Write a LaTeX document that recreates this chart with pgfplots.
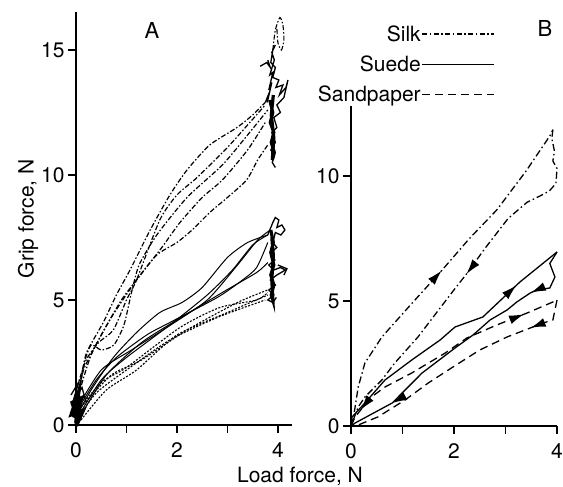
\documentclass[border=0pt]{standalone}
\usepackage{fontspec}
\setmainfont{TeX Gyre Heros}
\usepackage{pgfplots}
\pgfplotsset{compat=1.18}
\usetikzlibrary{arrows.meta,decorations.markings}

\tikzset{
  silkA/.style={line width=1.2pt, dash pattern=on 5pt off 2pt on 1.5pt off 2pt},
  suedeA/.style={line width=1.0pt},
  sandA/.style={line width=1.1pt, dash pattern=on 2pt off 1.5pt},
  silkB/.style={line width=1.3pt, dash pattern=on 7pt off 3pt on 1.5pt off 3pt},
  suedeB/.style={line width=1.3pt},
  sandB/.style={line width=1.3pt, dash pattern=on 8pt off 5pt},
  scrib/.style={line width=1.3pt, solid},
  blob/.style={line width=3.2pt, solid},
  arr/.style={postaction={decorate}, decoration={markings, #1}},
}
\newcommand{\tip}{\arrow{Latex[length=15pt,width=9pt]}}
\newcommand{\rtip}{\arrow{Latex[length=15pt,width=9pt,reversed]}}

\pgfplotsset{
  panel/.style={
    scale only axis, anchor=south west,
    axis x line=bottom, axis y line=left,
    axis line style={-, line width=1.6pt},
    tick align=outside, major tick length=8pt, minor tick length=8pt,
    every tick/.style={line width=1.4pt, black},
    minor tick style={line width=1.4pt, black},
    xmin=0, ymin=0,
    xtick={0,2,4}, minor xtick={1,3},
    clip=false,
    /pgf/number format/assume math mode=true,
    yticklabel style={font=\fontsize{21}{24}\selectfont},
    xticklabel style={font=\fontsize{21}{24}\selectfont, anchor=north, yshift=-6pt},
    every axis plot/.append style={black, smooth, tension=0.4},
  },
}

\begin{document}
\begin{tikzpicture}
\useasboundingbox (0pt,0pt) rectangle (563pt,487pt);

% ---------------- Panel A ----------------
\begin{axis}[panel, at={(76pt,62pt)}, width=216pt, height=412.5pt,
  xmax=4.28, ymax=16.5, ytick={0,5,10,15},
  ylabel={Grip force, N},
  ylabel style={font=\fontsize{21}{24}\selectfont, yshift=-4pt}]
% Silk (upper group)
\addplot[silkA] coordinates {(0.05,1.0) (0.12,2.0) (0.21,2.9) (0.54,4.1) (0.8,5.2) (1.07,6.2) (1.47,7.8) (1.86,9.2) (2.2,10.2) (2.65,11.2) (3.19,11.9) (3.5,12.4) (3.75,12.9)};
\addplot[silkA] coordinates {(0.02,1.5) (0.2,2.6) (0.45,3.3) (0.74,3.8) (1.0,5.0) (1.2,5.8) (1.66,8.2) (2.0,9.2) (2.4,9.9) (3.0,11.1) (3.4,12.0) (3.75,12.8)};
\addplot[silkA] coordinates {(0.02,1.0) (0.15,2.4) (0.3,3.2) (0.5,3.0) (0.75,3.2) (0.95,4.0) (1.1,5.3) (1.25,6.4) (1.6,7.6) (2.2,9.1) (2.9,10.4) (3.4,11.6) (3.8,12.6)};
\addplot[silkA] coordinates {(0.0,0.8) (0.15,2.2) (0.5,3.6) (0.9,5.0) (1.2,5.8) (1.7,7.1) (2.06,8.1) (2.5,9.1) (2.9,9.8) (3.4,11.0) (3.75,12.1)};
\addplot[silkA] coordinates {(0.05,1.2) (0.3,2.8) (0.7,4.3) (1.2,5.8) (1.6,6.8) (2.0,7.3) (2.3,7.8) (2.65,8.5) (3.0,9.1) (3.38,9.8) (3.6,10.6) (3.8,11.2)};
% Silk scribble near 4 N
\addplot[scrib, sharp plot] coordinates {(3.75,12.9) (3.83,13.3) (3.79,12.9) (3.88,13.7) (3.82,13.4) (3.9,14.1) (3.84,14.0) (3.93,14.6) (3.88,14.9) (3.95,15.2) (3.9,15.0) (3.86,14.5) (3.95,14.3) (3.9,13.9) (4.02,13.8) (3.96,13.5) (4.1,13.6) (4.03,13.2) (4.16,13.5) (4.2,13.8) (4.12,13.1) (3.98,12.8) (4.05,12.5) (3.92,12.3) (3.98,11.9) (3.88,11.7) (3.95,11.3) (3.86,11.0) (3.93,10.8) (3.89,10.5) (3.95,10.3)};
\addplot[scrib, sharp plot] coordinates {(3.65,14.35) (3.78,14.5) (3.85,14.3) (3.8,14.6)};
\addplot[silkA, line width=1.1pt] coordinates {(3.9,15.0) (3.95,15.8) (4.04,16.3) (4.1,16.0) (4.12,15.4) (4.07,15.0) (4.0,15.3) (3.98,15.9)};
\addplot[blob, sharp plot] coordinates {(3.84,13.0) (3.9,12.5) (3.85,12.1) (3.92,11.7) (3.87,11.3) (3.93,10.9) (3.89,10.6) (3.92,11.5) (3.87,12.4) (3.91,13.2)};
% Suede (middle group)
\addplot[suedeA] coordinates {(0,0.3) (0.3,1.4) (0.74,2.7) (1.2,3.7) (1.66,4.5) (2.1,4.9) (2.5,5.5) (3.0,6.7) (3.4,7.3) (3.8,7.6)};
\addplot[suedeA] coordinates {(0,0.5) (0.4,1.8) (0.8,2.7) (1.4,3.6) (1.86,4.1) (2.8,5.1) (3.3,5.8) (3.58,6.3) (3.8,7.3)};
\addplot[suedeA] coordinates {(0,0.2) (0.5,1.8) (1.0,2.7) (1.86,4.0) (2.6,5.2) (3.1,6.2) (3.5,7.2) (3.8,7.6)};
\addplot[suedeA] coordinates {(0.1,0.4) (0.6,2.0) (1.3,3.3) (2.0,4.2) (2.9,5.3) (3.58,6.1) (3.8,6.5)};
\addplot[suedeA] coordinates {(0,0.6) (0.5,2.2) (1.1,3.0) (1.8,3.9) (2.6,5.0) (3.2,6.4) (3.6,7.4) (3.85,7.8)};
% Suede scribble
\addplot[scrib, sharp plot] coordinates {(3.8,7.6) (3.9,8.1) (3.95,8.3) (4.02,8.2) (3.98,7.9) (4.08,8.0) (4.14,7.8) (4.06,7.6) (3.95,7.7) (3.9,7.3) (3.98,7.1) (3.86,6.9) (3.94,6.6) (3.82,6.4) (3.92,6.2) (4.05,6.3) (4.15,6.2) (3.98,6.0) (3.85,5.8) (3.95,5.6) (3.82,5.4) (3.92,5.2) (3.8,5.0) (3.9,4.9) (3.97,5.1)};
\addplot[scrib, sharp plot] coordinates {(4.0,6.4) (4.18,6.25) (4.12,6.0)};
\addplot[blob, sharp plot] coordinates {(3.86,7.8) (3.91,7.3) (3.86,6.9) (3.92,6.4) (3.86,6.0) (3.92,5.6) (3.87,5.2) (3.9,5.0) (3.88,5.8) (3.91,6.8) (3.88,7.5)};
% Sandpaper (lower group)
\addplot[sandA] coordinates {(0.05,0.3) (0.41,1.3) (1.07,2.3) (1.86,3.4) (2.8,4.3) (3.75,5.0)};
\addplot[sandA] coordinates {(0,0.5) (0.5,1.7) (1.0,2.3) (2.06,3.9) (2.85,4.7) (3.58,5.0) (3.8,5.3)};
\addplot[sandA] coordinates {(0.1,0.2) (0.6,1.4) (1.2,2.2) (2.0,3.6) (3.0,4.5) (3.8,5.2)};
\addplot[sandA] coordinates {(0.05,0.6) (0.7,2.0) (1.3,2.6) (2.2,3.8) (3.2,4.9) (3.8,5.4)};
% Origin cluster
\addplot[blob, sharp plot] coordinates {(0,0) (0.08,0.8) (-0.05,0.3) (0.12,1.1) (-0.08,0.9) (0.04,0.1) (0.15,0.6) (-0.1,0.4) (0.06,1.4) (0,0.2) (0.1,0.3)};
\addplot[scrib, sharp plot] coordinates {(-0.1,1.2) (0.05,1.7) (-0.05,1.0) (0.12,1.5) (0.2,0.9)};
\end{axis}

% ---------------- Panel B ----------------
\begin{axis}[panel, at={(351pt,61pt)}, width=206pt, height=320pt,
  xmax=4.0, ymax=12.8, ytick={0,5,10},
  legend plot pos=right, legend cell align=right,
  legend image code/.code={\draw[#1] (0pt,0pt) -- (72pt,0pt);},
  legend style={at={(0.714,1.262)}, anchor=north east, draw=none, fill=none,
    font=\fontsize{21}{23}\selectfont, row sep=11pt,
    nodes={inner sep=1pt}}]
\addlegendimage{silkB, line width=1.2pt, dash pattern=on 5pt off 2.5pt on 1.5pt off 2.5pt}
\addlegendentry{Silk}
\addlegendimage{suedeB, line width=1.2pt}
\addlegendentry{Suede}
\addlegendimage{sandB, line width=1.2pt}
\addlegendentry{Sandpaper}
% Silk loop
\addplot[silkB, sharp plot, forget plot, arr={mark=at position 185pt with {\tip}}] coordinates {(0,0) (0.06,0.5) (0.14,1.56) (0.27,2.52) (0.6,3.56) (1.18,4.9) (1.77,6.24) (2.3,7.5) (2.83,8.64) (3.4,10.2) (3.86,11.6) (3.92,11.85)};
\addplot[silkB, sharp plot, forget plot, arr={mark=at position -192pt with {\tip}}] coordinates {(3.92,11.85) (3.9,11.5) (3.95,11.0) (3.92,10.6) (4.0,10.3) (3.98,9.7) (3.85,9.4) (3.67,9.2) (3.42,8.95) (3.05,8.3) (2.6,7.1) (2.25,6.1) (2.02,5.5) (1.3,3.56) (0.85,2.52) (0.6,1.84) (0.27,1.16) (0.14,0.76) (0,0)};
% Suede loop
\addplot[suedeB, sharp plot, forget plot, arr={mark=at position 222pt with {\tip}}] coordinates {(0,0) (0.02,0.36) (0.27,0.92) (0.66,1.84) (1.18,2.64) (1.73,3.44) (2.02,3.96) (2.56,4.36) (3.28,5.76) (4.0,6.96)};
\addplot[suedeB, sharp plot, forget plot, arr={mark=at position -225pt with {\tip}, mark=at position -47pt with {\tip}}] coordinates {(4.0,6.96) (3.86,6.5) (3.96,5.96) (3.86,5.52) (3.61,5.44) (3.48,5.32) (3.22,4.96) (3.03,4.64) (2.7,4.24) (2.37,3.64) (2.02,3.12) (1.38,2.12) (0.8,0.92) (0.08,0.12) (0,0)};
% Sandpaper loop
\addplot[sandB, sharp plot, forget plot, arr={mark=at position 34pt with {\rtip}, mark=at position 210pt with {\tip}}] coordinates {(0,0) (0.08,0.36) (0.37,1.12) (0.66,1.56) (1.18,2.12) (1.83,2.92) (2.25,3.52) (2.83,4.04) (3.42,4.52) (3.92,4.96) (4.0,5.04)};
\addplot[sandB, sharp plot, forget plot, arr={mark=at position -206pt with {\tip}}] coordinates {(4.0,5.04) (3.96,4.64) (3.92,4.24) (3.73,4.12) (3.48,3.92) (3.03,3.56) (2.5,3.04) (1.98,2.36) (1.5,1.72) (1.05,1.04) (0.52,0.36) (0.14,0.04) (0,0)};
\end{axis}

\node[font=\fontsize{21}{24}\selectfont] at (300pt,11pt) {Load force, N};
\node[font=\fontsize{22}{24}\selectfont] at (152pt,457pt) {A};
\node[font=\fontsize{22}{24}\selectfont] at (545pt,459pt) {B};
\end{tikzpicture}
\end{document}
